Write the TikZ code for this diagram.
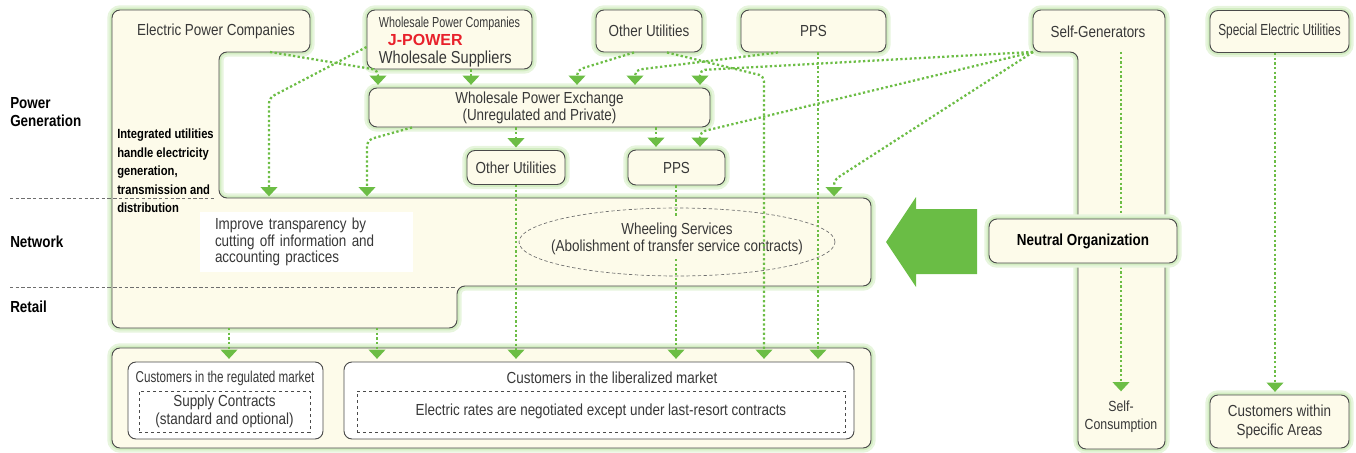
\documentclass[tikz,border=0pt]{standalone}
\usepackage{fontspec}
\setmainfont[FakeStretch=0.84]{Liberation Sans}
\newfontfamily\narrowfont[FakeStretch=0.74]{Liberation Sans}
\newfontfamily\plainfont{Liberation Sans}
\usetikzlibrary{arrows.meta, shapes.geometric}

\definecolor{cream}{HTML}{FDFBEA}
\definecolor{boxline}{HTML}{4A4A4A}
\definecolor{flowgreen}{HTML}{6CBD45}
\definecolor{glowgreen}{HTML}{D3EDC2}
\definecolor{biggreen}{HTML}{6ABD45}
\definecolor{jred}{HTML}{E8212B}
\definecolor{textgray}{HTML}{383838}

\tikzset{
  glow/.style={preaction={draw=glowgreen!55, line width=7pt}, preaction={draw=glowgreen, line width=3.5pt}},
  region/.style={draw=boxline, fill=cream, line width=0.7pt, rounded corners=6pt, glow},
  box/.style={draw=boxline, fill=cream, rounded corners=6pt, line width=0.7pt, glow, align=center, inner sep=0pt},
  innerbox/.style={draw=boxline, fill=white, rounded corners=6pt, line width=0.7pt, inner sep=0pt},
  dashbox/.style={draw=boxline, line width=0.5pt, dash pattern=on 2.5pt off 2pt, align=center, inner sep=0pt, font=\fontsize{12}{13.5}\selectfont},
  boxsize/.style 2 args={minimum width=#1*0.75pt, minimum height=#2*0.75pt},
  flow/.style={draw=flowgreen, line width=1.7pt, dash pattern=on 1.7pt off 1.8pt, rounded corners=4pt, -{Triangle[width=12.5pt,length=7pt]}, shorten >=2pt},
  plainflow/.style={draw=flowgreen, line width=1.7pt, dash pattern=on 1.7pt off 1.8pt},
  sepline/.style={draw=boxline!80, line width=0.5pt, dash pattern=on 2.5pt off 1.8pt},
  lefthead/.style={font=\fontsize{12}{13.5}\selectfont\bfseries, text=black, align=left, anchor=west, inner sep=0pt},
}

\begin{document}
\begin{tikzpicture}[x=0.75pt, y=-0.75pt, font=\fontsize{12}{13.2}\selectfont, text=textgray]
\useasboundingbox (0,0) rectangle (1356,453);
% integrated utilities block and self-generators column
\draw[region] (112,10) -- (310,10) -- (310,52) -- (219,52) -- (219,198) -- (871,198) -- (871,286) -- (457,286) -- (457,328) -- (112,328) -- cycle;
\draw[region] (1033,10) -- (1165,10) -- (1165,449) -- (1078,449) -- (1078,52) -- (1033,52) -- cycle;
\draw[sepline] (10,198) -- (215,198);
\draw[sepline] (10,287) -- (455,287);

\node[lefthead] (gen) at (10,112) {Power\\Generation};
\node[lefthead] (net) at (10,242) {Network};
\node[lefthead] (ret) at (10,307) {Retail};
\node[anchor=west, align=left, inner sep=0pt, text=black, font=\fontsize{10}{13.9}\selectfont\bfseries] (intnote) at (117,171) {Integrated utilities\\handle electricity\\generation,\\transmission and\\distribution};

\node (epc) at (216,31) {Electric Power Companies};
\node (sg) at (1098,32) {Self-Generators};
\node[align=center, font=\fontsize{11}{13.5}\selectfont] (selfc) at (1121,417) {Self-\\Consumption};

% generation side
\node[box, boxsize={165}{59}] (wpc) at (449.5,39.5) {};
\node[align=left, inner sep=0pt, font=\fontsize{12}{13.5}\selectfont] (wpctext) at (449.5,42) {{\narrowfont\fontsize{10.9}{13.5}\selectfont Wholesale Power Companies}\\\hspace*{6.75pt}{\plainfont\bfseries\color{jred}J-POWER}\\{\fontsize{13}{13.5}\selectfont Wholesale Suppliers}};
\node[box, boxsize={106}{42}] (outop) at (649,31) {Other Utilities};
\node[box, boxsize={145}{42}] (ppstop) at (813.5,31) {PPS};
\node[box, boxsize={139}{42}, font=\narrowfont\fontsize{12}{13}\selectfont] (seu) at (1279.5,31.5) {Special Electric Utilities};
\node[box, boxsize={341}{39}, font=\fontsize{12}{12.75}\selectfont] (wpe) at (539.5,107.5) {Wholesale Power Exchange\\(Unregulated and Private)};
\node[box, boxsize={98}{34}] (oumid) at (516,167.5) {Other Utilities};
\node[box, boxsize={97}{35}] (ppsmid) at (676.5,167.5) {PPS};

% network
\node[fill=white, boxsize={213}{60}, text width=137.25pt, inner xsep=11.25pt, align=left, font=\fontsize{12}{12.4}\selectfont] (impr) at (306.5,242) {Improve transparency by\\cutting off information and\\accounting practices};
\node[sepline, ellipse, boxsize={316}{68}] (ring) at (677,242) {};
\node[align=center, font=\fontsize{12}{12.75}\selectfont] (wheel) at (677,238.5) {Wheeling Services\\(Abolishment of transfer service contracts)};

% retail
\node[box, boxsize={759}{100}] (cust) at (491.5,398) {};
\node[innerbox, boxsize={195}{77}] (reg) at (225.5,400.5) {};
\node[innerbox, boxsize={510}{77}] (lib) at (599,400.5) {};
\node[font=\narrowfont\fontsize{11.8}{13}\selectfont] (regtitle) at (225,378) {Customers in the regulated market};
\node (libtitle) at (612,378) {Customers in the liberalized market};
\node[dashbox, boxsize={171}{41}] (regin) at (224.5,411.5) {Supply Contracts\\(standard and optional)};
\node[dashbox, boxsize={488}{41}] (libin) at (601,411.5) {Electric rates are negotiated except under last-resort contracts};
\node[box, boxsize={139}{53}, font=\fontsize{12}{14.25}\selectfont] (cwa) at (1279.5,421.5) {Customers within\\Specific Areas};

\coordinate (epcA) at (270,52);
\coordinate (epcB) at (229,328);
\coordinate (epcC) at (377,328);
\coordinate (sgA) at (1033,52);
\coordinate (sgB) at (1121,52);
\coordinate (sgC) at (1121,394);
\coordinate (netA) at (269,199);
\coordinate (netB) at (367,199);
\coordinate (netC) at (834,199);

% flows
\draw[flow] (epcA) -- (378,70) -- (wpe.north -| 378,0);
\draw[flow] (wpc.south -| 471,0) -- (wpe.north -| 471,0);
\draw[flow] (outop.south -| 634,0) -- (577,70) -- (wpe.north -| 577,0);
\draw[flow] (ppstop.south -| 778,0) -- (635,70) -- (wpe.north -| 635,0);
\draw[flow] (sgA) -- (700,70) -- (wpe.north -| 700,0);
\draw[flow] (sgA) -- (700,132) -- (ppsmid.north -| 700,0);
\draw[flow] (sgA) -- (834,180) -- (netC);
\draw[flow] (wpc.west |- 0,47) -- (269,98) -- (netA);
\draw[flow] (wpe.south -| 412,0) -- (367,140) -- (netB);
\draw[flow] (wpe.south -| 516,0) -- (oumid.north);
\draw[flow] (wpe.south -| 656,0) -- (ppsmid.north -| 656,0);
\draw[flow] (outop.south -| 667,0) -- (764,76) -- (lib.north -| 764,0);
\draw[flow] (ppstop.south -| 818,0) -- (lib.north -| 818,0);
\draw[flow] (oumid.south) -- (lib.north -| 516,0);
\draw[plainflow] (ppsmid.south -| 676,0) -- (wheel.north -| 676,0);
\draw[flow] (wheel.south -| 676,0) -- (lib.north -| 676,0);
\draw[flow] (epcB) -- (reg.north -| 229,0);
\draw[flow] (epcC) -- (lib.north -| 377,0);
\draw[flow] (sgB) -- (sgC);
\draw[flow] (seu.south -| 1275,0) -- (cwa.north -| 1275,0);

% neutral organization
\node[box, boxsize={188}{44}, text=black, font=\fontsize{12}{13}\selectfont\bfseries] (neutral) at (1083,241) {Neutral Organization};
\fill[biggreen] (886,242) -- (916,197) -- (916,209) -- (977,209) -- (977,274) -- (916,274) -- (916,287) -- cycle;
\end{tikzpicture}
\end{document}
